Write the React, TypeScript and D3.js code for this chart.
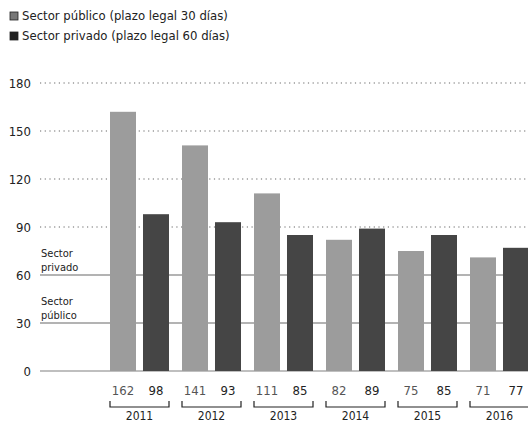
import React from "react";
import * as d3 from "d3";

const years = ["2011", "2012", "2013", "2014", "2015", "2016"];
const publico = [162, 141, 111, 82, 75, 71];
const privado = [98, 93, 85, 89, 85, 77];
const yTicks = [0, 30, 60, 90, 120, 150, 180];
const dottedTicks = [90, 120, 150, 180];
const legendLabels = ["Sector público (plazo legal 30 días)", "Sector privado (plazo legal 60 días)"];
const refLines = [
  { value: 60, label: ["Sector", "privado"] },
  { value: 30, label: ["Sector", "público"] },
];

const W = 528;
const H = 423;
const FONT = "'DejaVu Sans Condensed', 'DejaVu Sans', sans-serif";
const PUB = "#9c9c9c";
const PRI = "#454545";

export default function App() {
  const y = d3.scaleLinear().domain([0, 180]).range([371, 83]);
  const x = d3.scaleBand<string>().domain(years).range([110, 529]).paddingInner(13 / 72).paddingOuter(0);
  const xs = d3.scaleBand<string>().domain(["pub", "pri"]).range([0, x.bandwidth()]).paddingInner(0.212);
  const gridX0 = 40;
  const gridX1 = 528;

  return (
    <svg width={W} height={H} style={{ position: "absolute", left: 0, top: 0, background: "#fff" }} fontFamily={FONT}>
      <rect width={W} height={H} fill="#fff" />
      {/* legend */}
      {legendLabels.map((t, i) => (
        <g key={t}>
          <rect x={10} y={12 + i * 20} width={8} height={8} fill={i === 0 ? "#777" : "#222"} stroke="#222" strokeWidth={0.8} />
          <text x={22} y={20 + i * 20} fontSize={13} fill="#222" fontStretch="condensed">{t}</text>
        </g>
      ))}
      {/* dotted gridlines */}
      {dottedTicks.map((t) => (
        <line key={t} x1={gridX0} x2={gridX1} y1={y(t)} y2={y(t)} stroke="#666" strokeWidth={1.2} strokeDasharray="1.2 3.5" />
      ))}
      {/* reference lines */}
      {refLines.map((r) => (
        <g key={r.value}>
          <line x1={gridX0} x2={gridX1} y1={y(r.value)} y2={y(r.value)} stroke="#9a9a9a" strokeWidth={1.3} />
          {r.label.map((l, k) => (
            <text key={l} x={41} y={y(r.value) - 18 + k * 13.5} fontSize={11} fill="#222" fontStretch="condensed">{l}</text>
          ))}
        </g>
      ))}
      {/* baseline */}
      <line x1={gridX0} x2={gridX1} y1={y(0)} y2={y(0)} stroke="#aaa" strokeWidth={1.3} />
      {/* y labels */}
      {yTicks.map((t) => (
        <text key={t} x={31} y={y(t) + 4.5} fontSize={13} textAnchor="end" fill="#222" fontStretch="condensed">{t}</text>
      ))}
      {/* bars */}
      {years.map((yr, i) => {
        const gx = x(yr) as number;
        const vals = [
          { key: "pub", v: publico[i], c: PUB },
          { key: "pri", v: privado[i], c: PRI },
        ];
        return (
          <g key={yr}>
            {vals.map((d) => {
              const bx = gx + (xs(d.key) as number);
              return (
                <g key={d.key}>
                  <rect x={bx} y={y(d.v)} width={xs.bandwidth()} height={y(0) - y(d.v)} fill={d.c} />
                  <text x={bx + xs.bandwidth() / 2} y={395} fontSize={13} textAnchor="middle" fill={d.key === "pub" ? "#555" : "#222"} fontStretch="condensed">{d.v}</text>
                </g>
              );
            })}
            <path d={`M${gx},401 V407 H${gx + x.bandwidth()} V401`} fill="none" stroke="#222" strokeWidth={1.2} />
            <text x={gx + x.bandwidth() / 2} y={420} fontSize={12} textAnchor="middle" fill="#222" fontStretch="condensed">{yr}</text>
          </g>
        );
      })}
    </svg>
  );
}
